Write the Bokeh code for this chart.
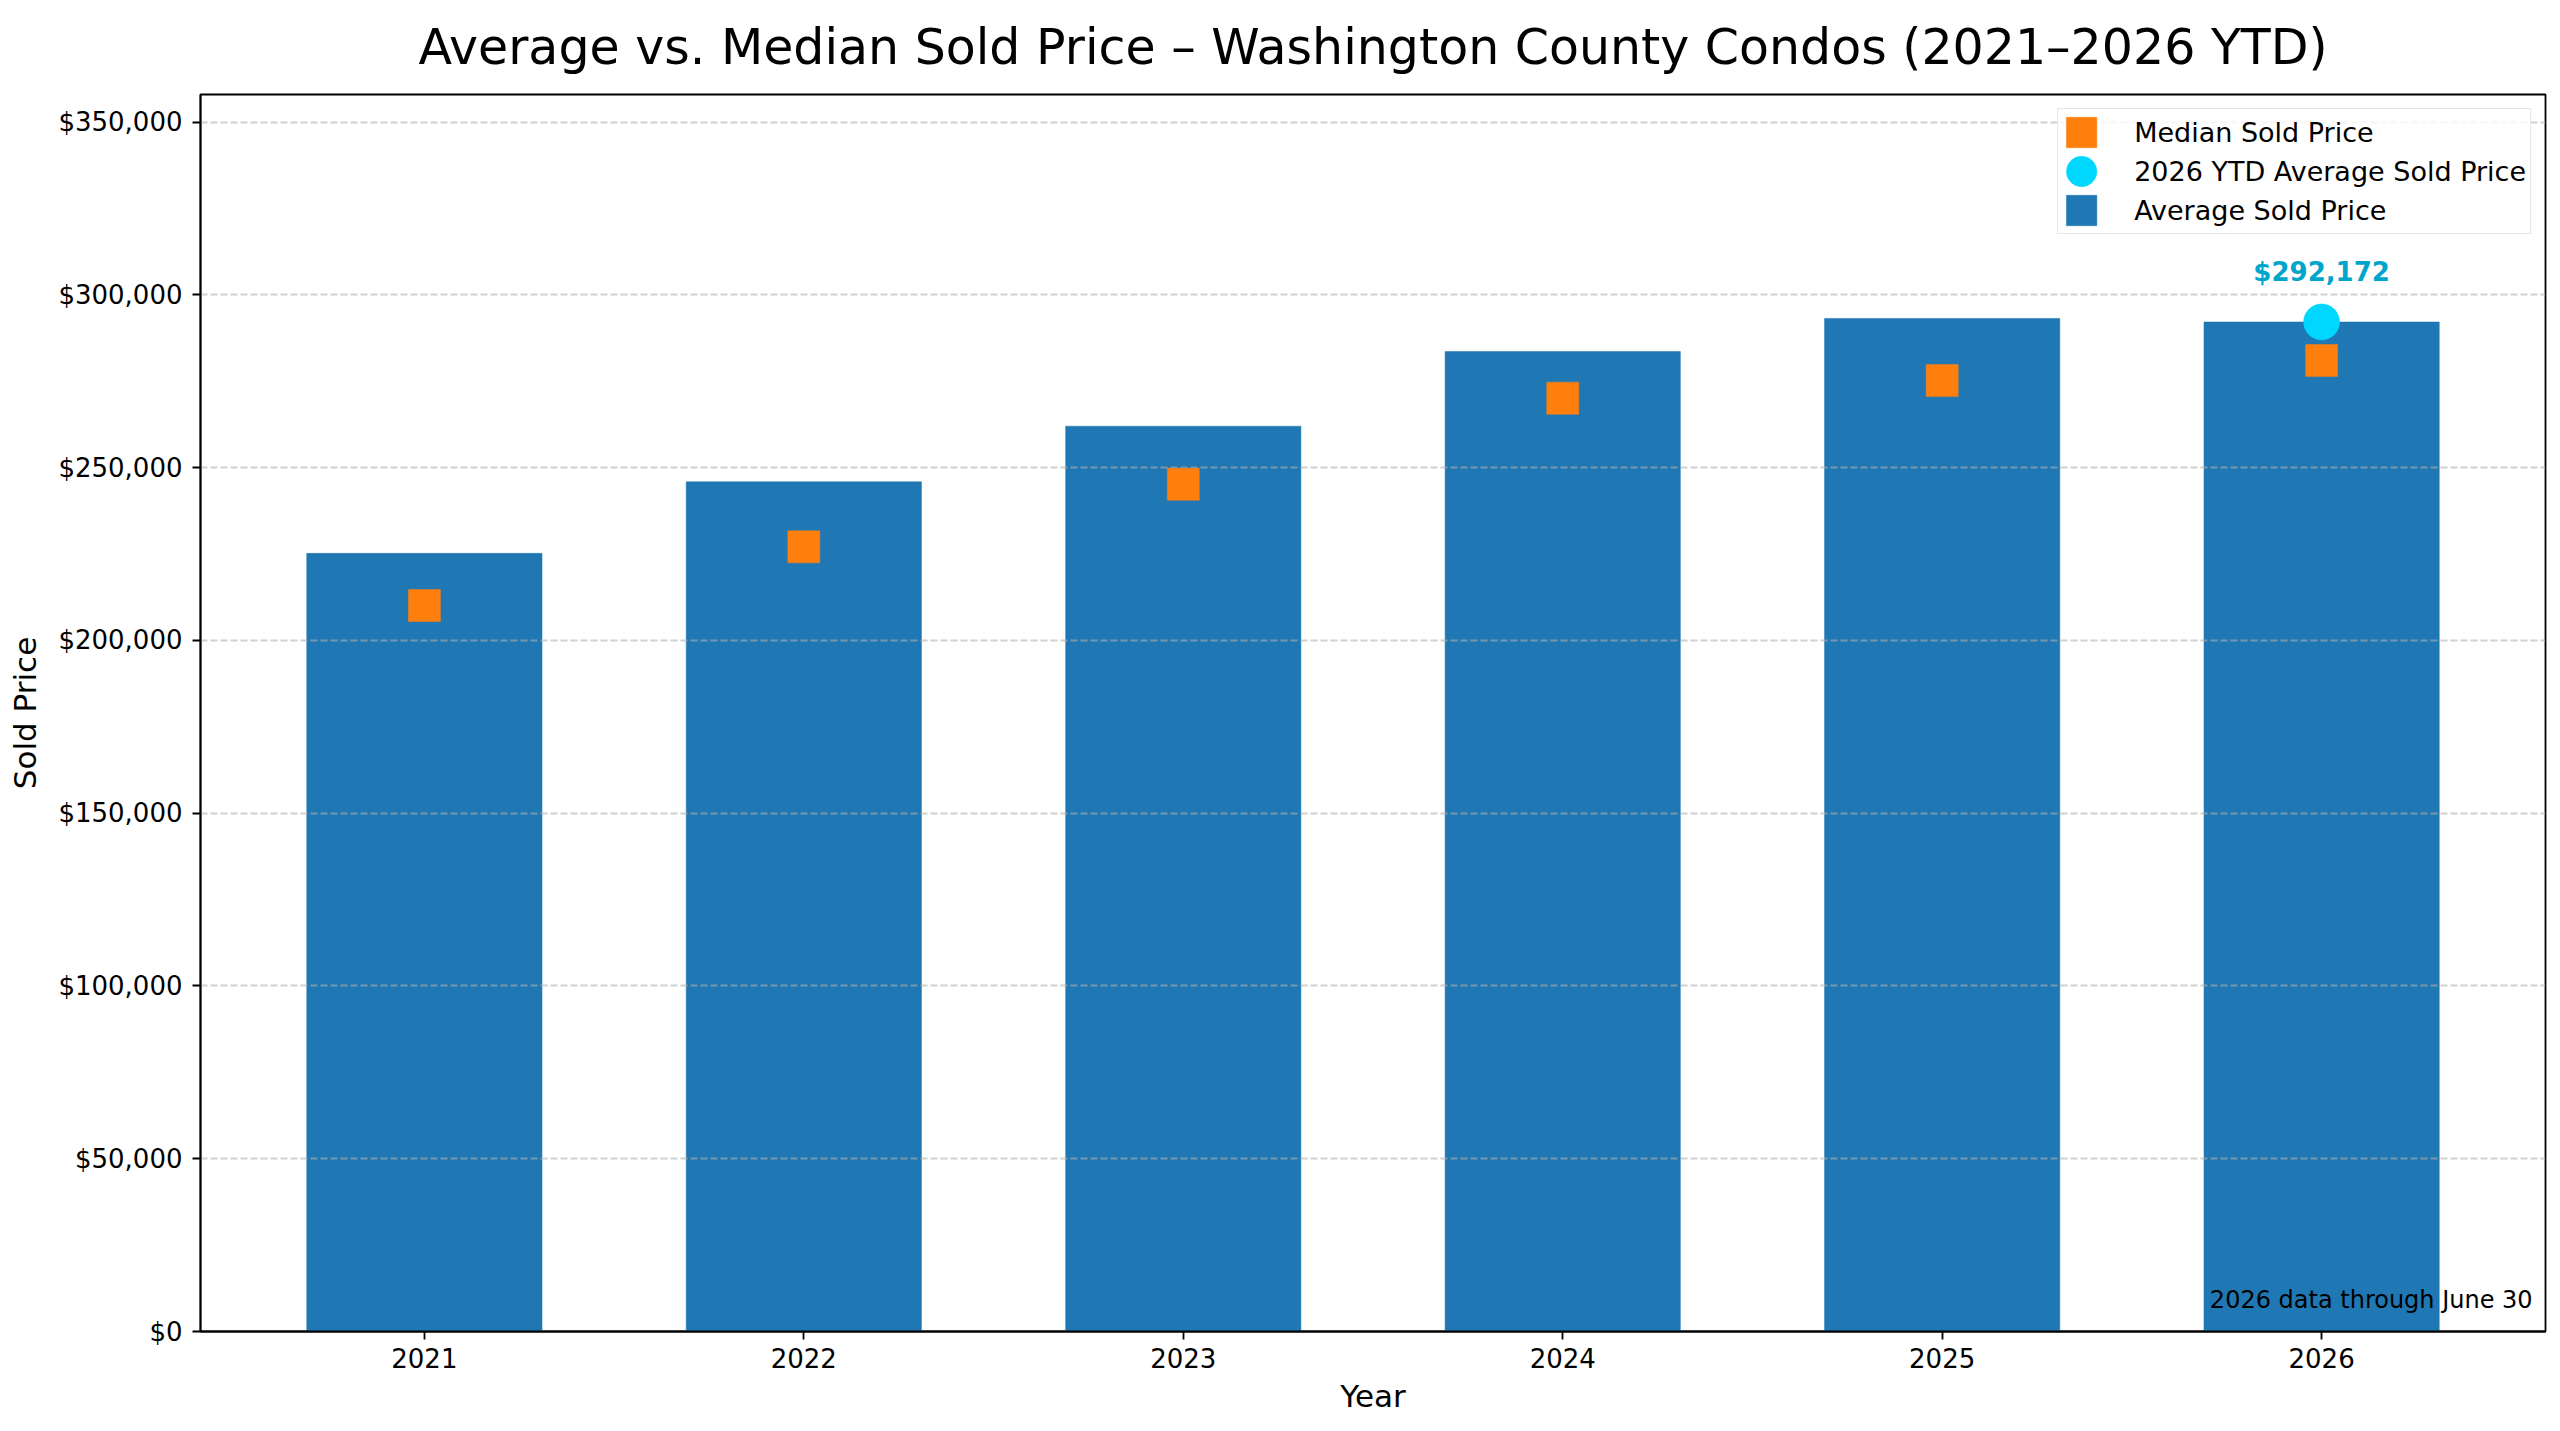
from bokeh.plotting import figure
from bokeh.models import (ColumnDataSource, Range1d, FixedTicker, NumeralTickFormatter,
                          Legend, LegendItem, Label)
from bokeh.embed import file_html
from bokeh.resources import INLINE
from bokeh.core.properties import value

# ---- data ----
years = [2021, 2022, 2023, 2024, 2025, 2026]
avg_price = [225200, 245900, 262000, 283600, 293200, 292172]
median_price = [210100, 227100, 245200, 270100, 275200, 281000]
ytd_year = [2026]
ytd_avg = [292172]
y_ticks = [0, 50000, 100000, 150000, 200000, 250000, 300000, 350000]
title_text = "Average vs. Median Sold Price \u2013 Washington County Condos (2021\u20132026 YTD)"
note_text = "2026 data through June 30"

FONT = "DejaVu Sans"
BAR = "#1f77b4"
ORANGE = "#ff7f0e"
CYAN = "#00d7ff"
CYAN_TXT = "#00a5cc"

Y_TOP = 358000
X_LO = years[0] - 0.59
X_HI = years[-1] + 0.59

bars = ColumnDataSource(dict(year=years, avg=avg_price, med=median_price))
ytd = ColumnDataSource(dict(year=ytd_year, avg=ytd_avg,
                            lbl=[f"${v:,}" for v in ytd_avg]))

p = figure(width=2560, height=1431, output_backend="svg", toolbar_location=None,
           x_range=Range1d(X_LO, X_HI), y_range=Range1d(0, Y_TOP),
           min_border_left=200, min_border_right=15, min_border_top=94, min_border_bottom=100,
           title=title_text)

p.title.text_font = FONT
p.title.text_font_size = "49px"
p.title.text_font_style = "normal"
p.title.text_color = "black"
p.title.align = "center"
p.title.vertical_align = "top"
p.title.standoff = 34

r_bar = p.vbar(x="year", top="avg", width=0.62, source=bars,
               fill_color=BAR, line_color=BAR, line_width=0.5, level="image")
r_med = p.rect(x="year", y="med", width=32, height=32, width_units="screen",
               height_units="screen", source=bars, fill_color=ORANGE, line_color=ORANGE,
               line_width=0.5)
r_ytd = p.ellipse(x="year", y="avg", width=36, height=36, width_units="screen",
                  height_units="screen", source=ytd, fill_color=CYAN, line_color=CYAN,
                  line_width=0.5)
p.text(x="year", y="avg", text="lbl", source=ytd, y_offset=-50,
       text_align="center", text_baseline="middle",
       text_font=value(FONT), text_font_size=value("26px"), text_font_style="bold",
       text_color=CYAN_TXT)

note = Label(x=years[-1], y=0, x_offset=211, y_offset=32, text=note_text,
             text_align="right", text_baseline="alphabetic",
             text_font=FONT, text_font_size="24px", text_color="black")
p.add_layout(note)

# axes
p.xaxis.ticker = FixedTicker(ticks=years)
p.yaxis.ticker = FixedTicker(ticks=y_ticks)
p.yaxis.formatter = NumeralTickFormatter(format="$0,0")
p.ygrid.ticker = FixedTicker(ticks=y_ticks)
p.xaxis.axis_label = "Year"
p.yaxis.axis_label = "Sold Price"
for ax in (p.xaxis, p.yaxis):
    ax.axis_label_text_font = FONT
    ax.axis_label_text_font_size = "31px"
    ax.axis_label_text_font_style = "normal"
    ax.axis_label_text_color = "black"
    ax.major_label_text_font = FONT
    ax.major_label_text_font_size = "26px"
    ax.major_label_text_color = "black"
    ax.axis_line_color = "black"
    ax.axis_line_width = 1.8
    ax.major_tick_line_color = "black"
    ax.major_tick_line_width = 1.8
    ax.major_tick_out = 8
    ax.major_tick_in = 0
    ax.minor_tick_line_color = None
p.yaxis.major_label_standoff = 10
p.yaxis.axis_label_standoff = 12
p.xaxis.major_label_standoff = 8
p.xaxis.axis_label_standoff = 7

p.xgrid.visible = False
p.ygrid.grid_line_color = "#b0b0b0"
p.ygrid.grid_line_alpha = 0.6
p.ygrid.grid_line_width = 1.8
p.ygrid.grid_line_dash = "7 3"

p.outline_line_color = "black"
p.outline_line_width = 1.8
p.outline_line_alpha = 1.0
p.background_fill_color = "white"
p.border_fill_color = "white"

legend = Legend(items=[
    LegendItem(label="Median Sold Price", renderers=[r_med]),
    LegendItem(label="2026 YTD Average Sold Price", renderers=[r_ytd]),
    LegendItem(label="Average Sold Price", renderers=[r_bar]),
], location="top_right")
legend.margin = 14
legend.padding = 4
legend.spacing = 1
legend.glyph_width = 38
legend.glyph_height = 38
legend.label_standoff = 34
legend.label_text_font = FONT
legend.label_text_font_size = "27px"
legend.label_text_color = "black"
legend.border_line_color = "#cccccc"
legend.border_line_width = 1.8
legend.background_fill_alpha = 0.8
p.add_layout(legend)

open("out.html", "w").write(file_html(p, INLINE))
